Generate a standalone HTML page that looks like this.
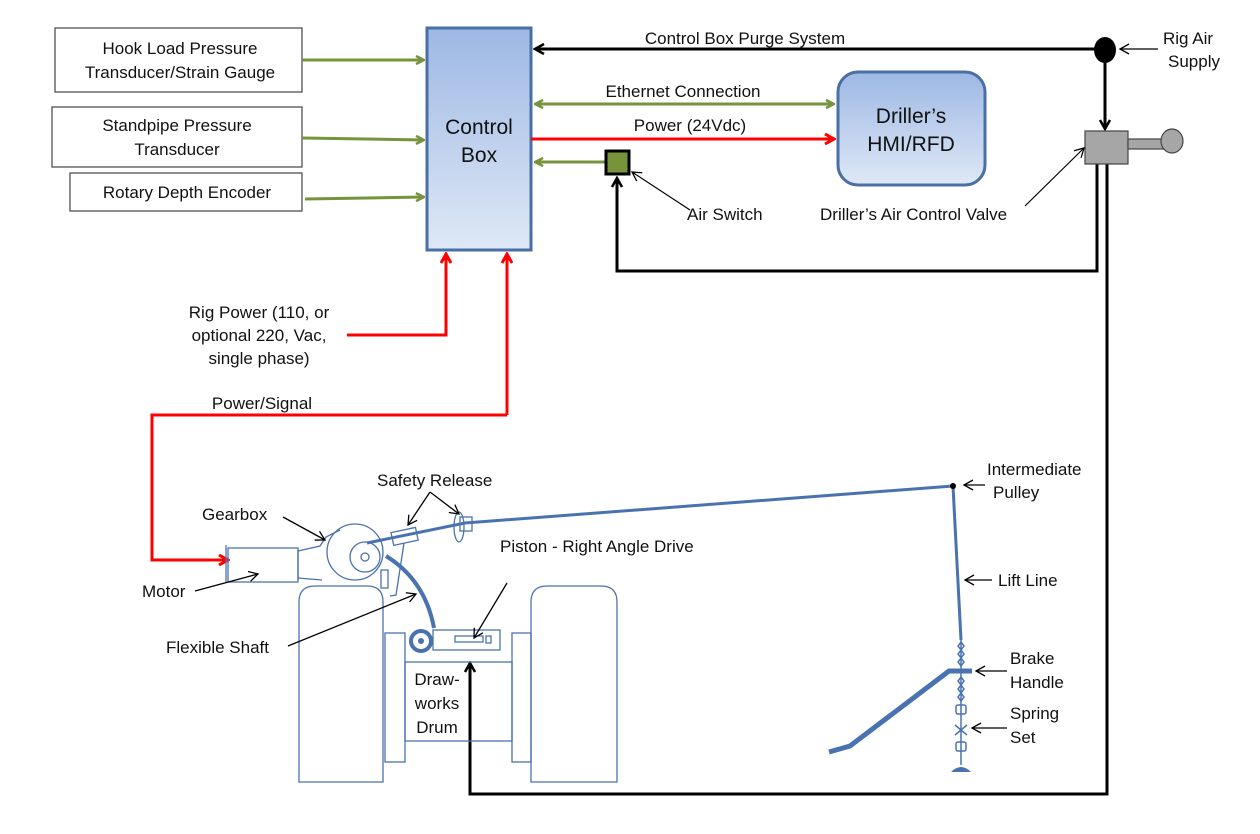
<!DOCTYPE html>
<html><head><meta charset="utf-8"><style>
html,body{margin:0;padding:0;background:#fff}
svg{display:block}
text{font-family:"Liberation Sans",sans-serif;font-size:17px;fill:#111}
</style></head><body>
<svg width="1260" height="834" viewBox="0 0 1260 834" xmlns="http://www.w3.org/2000/svg">
<defs>
<linearGradient id="g1" x1="0" y1="0" x2="0" y2="1"><stop offset="0" stop-color="#9db8e4"/><stop offset="1" stop-color="#dfe8f6"/></linearGradient>
<marker id="ag" markerWidth="10" markerHeight="10" refX="9" refY="5" orient="auto" markerUnits="userSpaceOnUse"><path d="M1,1 L9,5 L1,9" fill="none" stroke="#77933c" stroke-width="2.5"/></marker>
<marker id="agS" markerWidth="10" markerHeight="10" refX="1" refY="5" orient="auto" markerUnits="userSpaceOnUse"><path d="M9,1 L1,5 L9,9" fill="none" stroke="#77933c" stroke-width="2.5"/></marker>
<marker id="ar" markerWidth="12" markerHeight="12" refX="10" refY="6" orient="auto" markerUnits="userSpaceOnUse"><path d="M1,1 L10,6 L1,11" fill="none" stroke="#f00" stroke-width="3"/></marker>
<marker id="ak" markerWidth="12" markerHeight="12" refX="10" refY="6" orient="auto" markerUnits="userSpaceOnUse"><path d="M1,1 L10,6 L1,11" fill="none" stroke="#000" stroke-width="2.5"/></marker>
<marker id="at" markerWidth="12" markerHeight="12" refX="10" refY="6" orient="auto" markerUnits="userSpaceOnUse"><path d="M1,1 L10,6 L1,11" fill="none" stroke="#000" stroke-width="1.3"/></marker>
</defs>
<g fill="#fff" stroke="#444" stroke-width="1.2">
<rect x="55" y="28" width="247" height="64"/>
<rect x="52" y="107" width="250" height="60"/>
<rect x="70" y="173" width="232" height="38"/>
</g>
<text x="180" y="54" text-anchor="middle">Hook Load Pressure</text>
<text x="180" y="78" text-anchor="middle">Transducer/Strain Gauge</text>
<text x="177" y="131" text-anchor="middle">Standpipe Pressure</text>
<text x="177" y="155" text-anchor="middle">Transducer</text>
<text x="187" y="198" text-anchor="middle">Rotary Depth Encoder</text>
<g stroke="#77933c" stroke-width="3" fill="none">
<line x1="302" y1="60" x2="424" y2="60" marker-end="url(#ag)"/>
<line x1="302" y1="138" x2="424" y2="140" marker-end="url(#ag)"/>
<line x1="305" y1="199" x2="424" y2="197" marker-end="url(#ag)"/>
<line x1="535" y1="104" x2="834" y2="104" marker-start="url(#agS)" marker-end="url(#ag)"/>
<line x1="605" y1="162" x2="535" y2="162" marker-end="url(#ag)"/>
</g>
<rect x="427" y="28" width="104" height="222" fill="url(#g1)" stroke="#4a6fa5" stroke-width="3"/>
<text x="479" y="134" text-anchor="middle" style="font-size:21px">Control</text>
<text x="479" y="162" text-anchor="middle" style="font-size:21px">Box</text>
<rect x="838" y="72" width="147" height="113" rx="20" fill="url(#g1)" stroke="#4a6fa5" stroke-width="3"/>
<text x="911" y="123" text-anchor="middle" style="font-size:21px">Driller’s</text>
<text x="911" y="151" text-anchor="middle" style="font-size:21px">HMI/RFD</text>
<line x1="531" y1="139" x2="834" y2="139" stroke="#f00" stroke-width="3" marker-end="url(#ar)"/>
<text x="683" y="97" text-anchor="middle">Ethernet  Connection</text>
<text x="690" y="131" text-anchor="middle">Power (24Vdc)</text>
<text x="745" y="44" text-anchor="middle">Control Box Purge System</text>
<g stroke="#000" stroke-width="3" fill="none">
<line x1="1105" y1="49" x2="535" y2="49" marker-end="url(#ak)"/>
<line x1="1105" y1="55" x2="1105" y2="129" marker-end="url(#ak)"/>
<polyline points="1097,163 1097,271 617,271 617,178" marker-end="url(#ak)"/>
<polyline points="1107,163 1107,794 470,794 470,663" marker-end="url(#ak)"/>
</g>
<ellipse cx="1105" cy="50" rx="11" ry="13" fill="#000"/>
<line x1="1158" y1="49" x2="1120" y2="49" stroke="#000" stroke-width="1.3" marker-end="url(#at)"/>
<text x="1163" y="44">Rig Air</text>
<text x="1168" y="67">Supply</text>
<rect x="1085" y="131" width="43" height="33" fill="#a6a6a6" stroke="#444" stroke-width="1.2"/>
<rect x="1128" y="139" width="36" height="10" fill="#a6a6a6" stroke="#444" stroke-width="1.2"/>
<ellipse cx="1172" cy="141" rx="11" ry="12" fill="#a6a6a6" stroke="#444" stroke-width="1.2"/>
<rect x="606" y="151" width="23" height="23" fill="#77933c" stroke="#000" stroke-width="3"/>
<line x1="690" y1="210" x2="632" y2="172" stroke="#000" stroke-width="1.2" marker-end="url(#at)"/>
<text x="687" y="220">Air Switch</text>
<line x1="1025" y1="206" x2="1084" y2="148" stroke="#000" stroke-width="1.2" marker-end="url(#at)"/>
<text x="820" y="220">Driller’s Air Control Valve</text>
<g stroke="#f00" stroke-width="3" fill="none">
<polyline points="347,335 446,335 446,254" marker-end="url(#ar)"/>
<polyline points="507,415 507,254" marker-end="url(#ar)"/>
<polyline points="507,415 152,415 152,560 228,560" marker-end="url(#ar)"/>
</g>
<text x="259" y="318" text-anchor="middle">Rig  Power (110, or</text>
<text x="259" y="341" text-anchor="middle">optional 220, Vac,</text>
<text x="259" y="364" text-anchor="middle">single phase)</text>
<text x="262" y="409" text-anchor="middle">Power/Signal</text>
<g stroke="#4a72b0" stroke-width="1.3" fill="none">
<path d="M299,782 V602 Q299,586 315,586 H367 Q383,586 383,602 V782 Z"/>
<path d="M531,782 V602 Q531,586 547,586 H601 Q617,586 617,602 V782 Z"/>
<rect x="385" y="633" width="20" height="129"/>
<rect x="512" y="633" width="19" height="129"/>
<rect x="405" y="662" width="107" height="79"/>
<line x1="226" y1="545" x2="226" y2="582"/>
<rect x="228" y="548" width="70" height="34"/>
<path d="M298,551 L320,546 L326,537 L340,530 M298,578 L322,580"/>
<line x1="298" y1="550" x2="298" y2="580"/>
<circle cx="355" cy="552" r="28"/>
<circle cx="365" cy="557" r="15"/>
<circle cx="365" cy="557" r="4"/>
<rect x="381" y="570" width="7" height="18"/>
<rect x="392" y="530" width="25" height="13" transform="rotate(-12 404 536)"/>
<polyline points="404,543 396,595 390,596"/>
<ellipse cx="459" cy="527" rx="5" ry="15"/>
<rect x="460" y="517" width="12" height="14"/>
<rect x="433" y="630" width="67" height="20"/>
<rect x="455" y="636" width="28" height="6"/>
<rect x="486" y="636" width="5" height="7"/>
</g>
<g stroke="#4a72b0" fill="none">
<circle cx="421" cy="641" r="10" stroke-width="4"/>
<path d="M386,556 Q425,580 434,628" stroke-width="4"/>
<polyline points="367,543 465,523 953,486 961,640" stroke-width="3"/>
<polyline points="829,752 850,746 949,671 972,671" stroke-width="5"/>
<line x1="961" y1="640" x2="961" y2="765" stroke-width="1.5"/>
</g>
<circle cx="421" cy="641" r="3" fill="#4a72b0"/>
<circle cx="953" cy="486" r="3" fill="#000"/>
<g fill="none" stroke="#4a72b0" stroke-width="1.5">
<path d="M961,642 l3,4 -3,4 -3,-4z M961,650 l3,4 -3,4 -3,-4z M961,658 l3,4 -3,4 -3,-4z M961,677 l3,4 -3,4 -3,-4z M961,685 l3,4 -3,4 -3,-4z M961,693 l3,4 -3,4 -3,-4z"/>
<rect x="956" y="705" width="10" height="9" rx="2"/>
<rect x="956" y="742" width="10" height="9" rx="2"/>
<path d="M955,725 L967,735 M967,725 L955,735"/>
</g>
<path d="M951,772 Q961,762 971,772 Z" fill="#4a72b0"/>
<g stroke="#000" stroke-width="1.3" fill="none">
<line x1="283" y1="517" x2="325" y2="540" marker-end="url(#at)"/>
<line x1="430" y1="492" x2="408" y2="525" marker-end="url(#at)"/>
<line x1="430" y1="492" x2="459" y2="514" marker-end="url(#at)"/>
<line x1="195" y1="591" x2="258" y2="574" marker-end="url(#at)"/>
<line x1="288" y1="646" x2="416" y2="594" marker-end="url(#at)"/>
<line x1="507" y1="583" x2="474" y2="638" marker-end="url(#at)"/>
<line x1="985" y1="485" x2="964" y2="485" marker-end="url(#at)"/>
<line x1="992" y1="580" x2="965" y2="580" marker-end="url(#at)"/>
<line x1="1007" y1="671" x2="976" y2="671" marker-end="url(#at)"/>
<line x1="1007" y1="728" x2="972" y2="728" marker-end="url(#at)"/>
</g>
<text x="202" y="520">Gearbox</text>
<text x="377" y="486">Safety Release</text>
<text x="500" y="552">Piston - Right Angle Drive</text>
<text x="142" y="597">Motor</text>
<text x="166" y="653">Flexible Shaft</text>
<text x="437" y="685" text-anchor="middle">Draw-</text>
<text x="437" y="709" text-anchor="middle">works</text>
<text x="437" y="733" text-anchor="middle">Drum</text>
<text x="987" y="475">Intermediate</text>
<text x="993" y="498">Pulley</text>
<text x="998" y="586">Lift Line</text>
<text x="1010" y="664">Brake</text>
<text x="1010" y="688">Handle</text>
<text x="1010" y="719">Spring</text>
<text x="1010" y="743">Set</text>
</svg>
</body></html>
